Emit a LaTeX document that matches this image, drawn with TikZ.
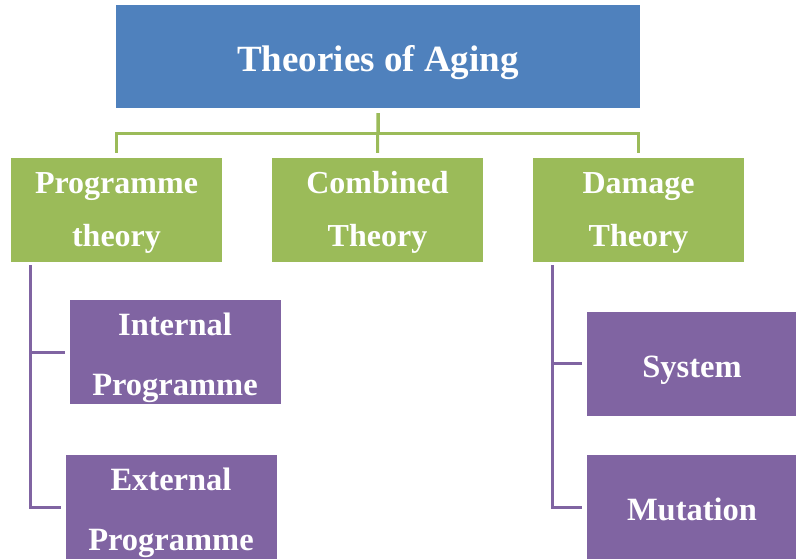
\documentclass[tikz,border=0pt]{standalone}
\usepackage{fontspec}
\setmainfont{Liberation Serif}
\definecolor{agblue}{HTML}{4F81BD}
\definecolor{aggreen}{HTML}{9BBB59}
\definecolor{agpurple}{HTML}{8064A2}
\begin{document}
\begin{tikzpicture}[x=1pt,y=-1pt]

      \useasboundingbox (0,0) rectangle (796,559);

      \begin{scope}[every node/.style={rectangle,inner sep=0pt,text=white,align=center}]
        \node[fill=agblue,minimum width=524pt,minimum height=103pt,text height=31pt,text depth=0pt,
              font=\fontsize{37}{40}\selectfont\bfseries] (top) at (378,56.5) {Theories of Aging};

        \begin{scope}[every node/.append style={fill=aggreen,minimum width=211pt,minimum height=104pt,
              text height=74pt,text depth=0pt,font=\fontsize{32}{54}\selectfont\bfseries}]
          \node (prog) at (116.5,210) {Programme\\theory};
          \node (comb) at (377.5,210) {Combined\\Theory};
          \node (dmg)  at (638.5,210) {Damage\\Theory};
        \end{scope}

        \begin{scope}[every node/.append style={fill=agpurple,minimum width=211pt,minimum height=104pt,
              font=\fontsize{32.5}{60}\selectfont\bfseries}]
          \node[text height=86pt,text depth=0pt] (intp) at (175,352) {Internal\\Programme};
          \node[text height=86pt,text depth=0pt] (extp) at (171,507) {External\\Programme};
          \node[text height=27pt,text depth=0pt] (sys)  at (692,363.5) {System};
          \node[text height=27pt,text depth=0pt] (mut)  at (692,507)   {Mutation};
        \end{scope}
      \end{scope}

      \begin{scope}[every path/.style={draw=aggreen,line width=3pt,shorten <=5pt,shorten >=5pt}]
        \path (top.south) -- (comb.north);
        \path (top.south) -- ++(0,25) -| (prog.north);
        \path (top.south) -- ++(0,25) -| (dmg.north);
      \end{scope}

      \begin{scope}[every path/.style={draw=agpurple,line width=3pt,shorten <=3pt,shorten >=4pt}]
        \path ([xshift=20pt]prog.south west) |- (intp.west);
        \path ([xshift=20pt]prog.south west) |- (extp.west);
        \path ([xshift=20pt]dmg.south west)  |- (sys.west);
        \path ([xshift=20pt]dmg.south west)  |- (mut.west);
      \end{scope}

    \end{tikzpicture}
\end{document}
